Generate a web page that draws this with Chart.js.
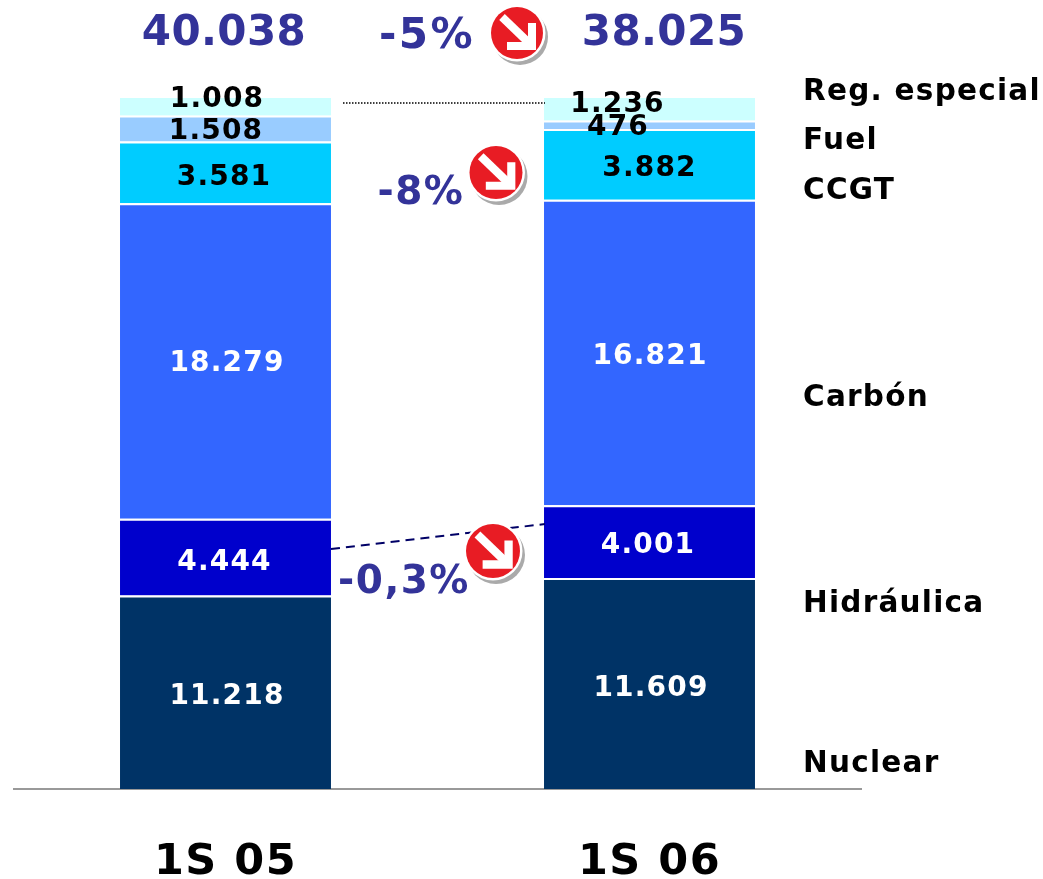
<!DOCTYPE html>
<html><head><meta charset="utf-8">
<style>html,body{margin:0;padding:0;background:#fff}canvas{display:block}</style>
<script src="https://cdn.jsdelivr.net/npm/chart.js@4"></script></head>
<body><canvas id="c" width="1043" height="879"></canvas>
<script>
const categories = ["1S 05", "1S 06"];
const totals = ["40.038", "38.025"];
const nuclear = [11218, 11609];
const hidraulica = [4444, 4001];
const carbon = [18279, 16821];
const ccgt = [3581, 3882];
const fuel = [1508, 476];
const regEspecial = [1008, 1236];
const seriesNames = ["Nuclear", "Hidráulica", "Carbón", "CCGT", "Fuel", "Reg. especial"];
const seriesValues = [nuclear, hidraulica, carbon, ccgt, fuel, regEspecial];
const seriesColors = ["#003366", "#0000CC", "#3366FF", "#00CCFF", "#99CCFF", "#CCFFFF"];
const labelColors = ["#fff", "#fff", "#fff", "#000", "#000", "#000"];
const labelDX = [[1.5, 1.5], [-1, -1.5], [1.5, 0.5], [-1.5, 0], [-9.5, -31.5], [-8.5, -32]];
const labelDY = [[5, 5], [6, 4], [3, 4], [5, 4], [3, 3], [-7, -5]];
const legendY = [764, 604, 398, 191, 141, 92];
const changes = ["-5%", "-8%", "-0,3%"];
const FONT = '"DejaVu Sans", Verdana, sans-serif';

const fmt = v => String(v).replace(/\B(?=(\d{3})+$)/g, ".");
const sums = categories.map((_, i) => seriesValues.reduce((a, s) => a + s[i], 0));

function badge(ctx, x, y, r) {
  ctx.save();
  ctx.fillStyle = "#aaa"; ctx.beginPath(); ctx.arc(x + 3, y + 4, r + 2, 0, 7); ctx.fill();
  ctx.fillStyle = "#fff"; ctx.beginPath(); ctx.arc(x, y, r + 2.5, 0, 7); ctx.fill();
  ctx.fillStyle = "#E81C24"; ctx.beginPath(); ctx.arc(x, y, r, 0, 7); ctx.fill();
  ctx.translate(x, y); ctx.scale(r / 26, r / 26);
  ctx.strokeStyle = "#fff"; ctx.lineWidth = 8; ctx.lineJoin = "miter";
  ctx.beginPath(); ctx.moveTo(-15, -16); ctx.lineTo(12, 10); ctx.stroke();
  ctx.beginPath(); ctx.moveTo(15, -10); ctx.lineTo(15, 13); ctx.lineTo(-10, 13); ctx.stroke();
  ctx.restore();
}

const overlay = {
  id: "overlay",
  beforeDraw(chart) { chart.ctx.letterSpacing = "1.5px"; },
  afterDatasetsDraw(chart) {
    const ctx = chart.ctx;
    ctx.save();
    ctx.textAlign = "center"; ctx.textBaseline = "middle";
    ctx.font = 'bold 28px ' + FONT;
    ctx.letterSpacing = "1.2px";
    seriesValues.forEach((vals, d) => {
      const meta = chart.getDatasetMeta(d);
      vals.forEach((v, i) => {
        const el = meta.data[i];
        ctx.fillStyle = labelColors[d];
        ctx.fillText(fmt(v), el.x + labelDX[d][i], (el.y + el.base) / 2 + labelDY[d][i]);
      });
    });

    ctx.font = 'bold 29.5px ' + FONT;
    ctx.letterSpacing = "1.25px";
    ctx.textAlign = "left"; ctx.fillStyle = "#000";
    seriesNames.forEach((n, i) => ctx.fillText(n, 803, legendY[i]));

    ctx.textAlign = "center"; ctx.fillStyle = "#333399";
    ctx.font = 'bold 42px ' + FONT;
    ctx.letterSpacing = "0.4px";
    ctx.fillText(totals[0], 224, 34);
    ctx.fillText(totals[1], 664, 34);
    ctx.font = 'bold 42px ' + FONT;
    ctx.letterSpacing = "2.5px";
    ctx.fillText(changes[0], 427, 37);
    ctx.font = 'bold 39px ' + FONT;
    ctx.letterSpacing = "1.5px";
    ctx.fillText(changes[1], 421, 194);
    ctx.fillText(changes[2], 404, 583);
    ctx.letterSpacing = "0px";

    ctx.strokeStyle = "#000"; ctx.lineWidth = 1.5; ctx.setLineDash([1.5, 1.5]);
    ctx.beginPath(); ctx.moveTo(343, 103); ctx.lineTo(545, 103); ctx.stroke();
    ctx.strokeStyle = "#000066"; ctx.lineWidth = 2; ctx.setLineDash([9, 6]);
    ctx.beginPath(); ctx.moveTo(331, 549); ctx.lineTo(545, 524); ctx.stroke();
    ctx.setLineDash([]);

    badge(ctx, 517, 33, 26);
    badge(ctx, 496, 172.5, 26.5);
    badge(ctx, 493, 551, 27);
    ctx.restore();
  }
};

new Chart(document.getElementById("c"), {
  type: "bar",
  data: {
    labels: categories,
    datasets: seriesNames.map((n, d) => ({
      label: n,
      data: seriesValues[d].map((v, i) => v / sums[i] * 100),
      backgroundColor: seriesColors[d],
      borderColor: "#fff",
      borderWidth: d === 5 ? 0 : { top: 2 },
      borderSkipped: false
    }))
  },
  plugins: [overlay],
  options: {
    responsive: false, animation: false,
    layout: { padding: { top: 98, left: 13.5, right: 181.5, bottom: 0 } },
    plugins: { legend: { display: false }, tooltip: { enabled: false } },
    datasets: { bar: { barPercentage: 0.4976, categoryPercentage: 1 } },
    scales: {
      x: {
        stacked: true,
        grid: { display: false },
        border: { color: "#999999", width: 2 },
        ticks: { color: "#000", font: { family: FONT, weight: "bold", size: 43 }, padding: 40, maxRotation: 0 },
        afterFit(s) { s.height = 90; }
      },
      y: { stacked: true, display: false, min: 0, max: 100 }
    }
  }
});
</script></body></html>
